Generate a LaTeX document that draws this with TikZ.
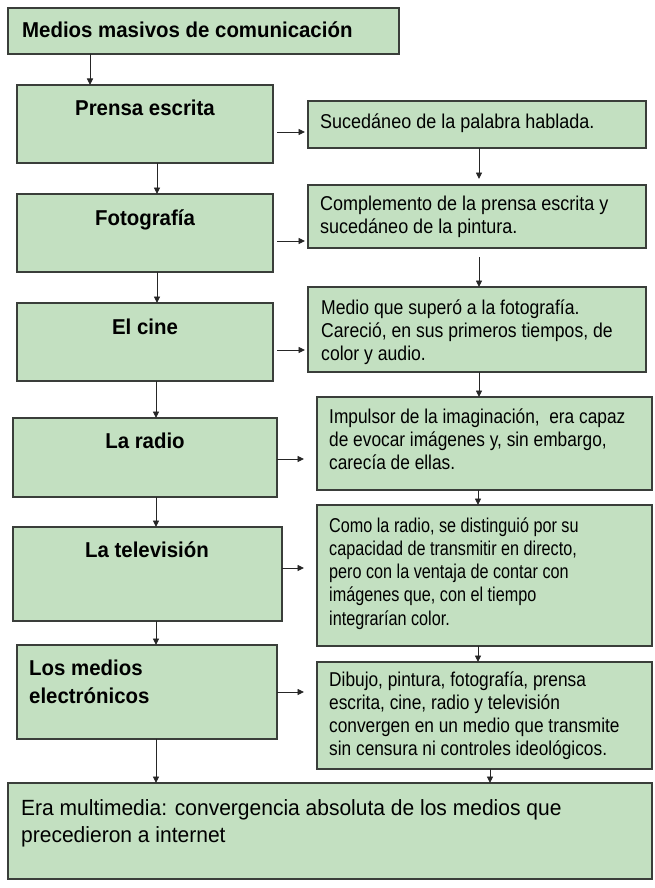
\documentclass[tikz,border=0pt]{standalone}
\usepackage{fontspec}
\setmainfont{Liberation Sans}
\newfontfamily\headfont{Liberation Sans}[FakeStretch=0.95]
\newfontfamily\bigfont{Liberation Sans}[FakeStretch=0.955]
\newfontfamily\fsA{Liberation Sans}[FakeStretch=0.90]
\newfontfamily\fsB{Liberation Sans}[FakeStretch=0.88]
\newfontfamily\fsC{Liberation Sans}[FakeStretch=0.865]
\newfontfamily\fsD{Liberation Sans}[FakeStretch=0.81]
\usetikzlibrary{arrows.meta}
\definecolor{boxfill}{RGB}{195,224,193}
\definecolor{boxline}{RGB}{58,62,58}
\newcommand\gbox[5]{\node[box,anchor=north west,minimum width={#4-#2},minimum height={#5-#3}] (#1) at (#2,#3) {};}
\newcommand\firstline{\rule{0pt}{18pt}}
\begin{document}
\begin{tikzpicture}[x=1pt,y=-1pt,
  box/.style={draw=boxline, fill=boxfill, line width=1.2pt, inner sep=0pt, outer sep=0pt},
  head/.style={font=\headfont\fontsize{21.5}{28}\selectfont\bfseries, inner sep=0pt, align=left},
  body/.style={font={#1\fontsize{20}{23.2}\selectfont}, inner sep=0pt, align=left, anchor=north west},
  big/.style={font=\bigfont\fontsize{22}{27}\selectfont, inner sep=0pt, align=left, anchor=north west},
  arr/.style={line width=0.9pt, draw=black!85, -{Triangle[length=6.5pt,width=6pt]}}]
\useasboundingbox (0,0) rectangle (654,888);
% boxes
\gbox{T}{8}{8}{399}{54}
\gbox{L1}{17}{85}{273}{163}
\gbox{L2}{17}{194}{273}{272}
\gbox{L3}{17}{303}{273}{381}
\gbox{L4}{13}{418}{277}{497}
\gbox{L5}{13}{527}{282}{621}
\gbox{L6}{17}{645}{277}{739}
\gbox{R1}{308}{101}{646}{148}
\gbox{R2}{308}{185}{646}{248}
\gbox{R3}{308}{287}{646}{372}
\gbox{R4}{317}{397}{652}{490}
\gbox{R5}{317}{505}{652}{646}
\gbox{R6}{317}{662}{652}{769}
\gbox{B}{8}{783}{652}{879}
% texts
\node[head, anchor=base west] (tT) at (22,38) {Medios masivos de comunicación};
\node[head, anchor=base] (tL1) at (145,116) {Prensa escrita};
\node[head, anchor=base] (tL2) at (145,225) {Fotografía};
\node[head, anchor=base] (tL3) at (145,334) {El cine};
\node[head, anchor=base] (tL4) at (145,448) {La radio};
\node[head, anchor=base] (tL5) at (147,557) {La televisión};
\node[head, anchor=north west] (tL6) at (29,675-18) {\firstline Los medios\\electrónicos};
\node[body=\fsA] (tR1) at (320,128-18) {\firstline Sucedáneo de la palabra hablada.};
\node[body=\fsA] (tR2) at (320,210-18) {\firstline Complemento de la prensa escrita y\\sucedáneo de la pintura.};
\node[body=\fsB] (tR3) at (321,314-18) {\firstline Medio que superó a la fotografía.\\Careció, en sus primeros tiempos, de\\color y audio.};
\node[body=\fsC] (tR4) at (329,423-18) {\firstline Impulsor de la imaginación, \ era capaz\\de evocar imágenes y, sin embargo,\\carecía de ellas.};
\node[body=\fsD] (tR5) at (329,532-18) {\firstline Como la radio, se distinguió por su\\capacidad de transmitir en directo,\\pero con la ventaja de contar con\\imágenes que, con el tiempo\\integrarían color.};
\node[body=\fsC] (tR6) at (329,686-18) {\firstline Dibujo, pintura, fotografía, prensa\\escrita, cine, radio y televisión\\convergen en un medio que transmite\\sin censura ni controles ideológicos.};
\node[big] (tB) at (21,815-18) {\firstline Era multimedia: convergencia absoluta de los medios que\\precedieron a internet};
% vertical arrows, left column
\draw[arr] (T.south -| 90,0) -- (L1.north -| 90,0);
\draw[arr] (L1.south -| 157,0) -- (L2.north -| 157,0);
\draw[arr] (L2.south -| 157,0) -- (L3.north -| 157,0);
\draw[arr] (L3.south -| 156,0) -- (L4.north -| 156,0);
\draw[arr] (L4.south -| 156,0) -- (L5.north -| 156,0);
\draw[arr] (L5.south -| 156,0) -- (L6.north -| 156,0);
\draw[arr] (L6.south -| 156,0) -- (B.north -| 156,0);
% vertical arrows, right column
\draw[arr] (R1.south -| 479,0) -- ([yshift=6pt]R2.north -| 479,0);
\draw[arr] ([yshift=-9pt]R2.south -| 479,0) -- (R3.north -| 479,0);
\draw[arr] (R3.south -| 479,0) -- (R4.north -| 479,0);
\draw[arr] (R4.south -| 478,0) -- (R5.north -| 478,0);
\draw[arr] (R5.south -| 478,0) -- (R6.north -| 478,0);
\draw[arr] (R6.south -| 490,0) -- (B.north -| 490,0);
% horizontal arrows
\draw[arr] ([xshift=4pt]L1.east |- 0,132) -- ([xshift=-3pt]R1.west |- 0,132);
\draw[arr] ([xshift=4pt]L2.east |- 0,241) -- ([xshift=-3pt]R2.west |- 0,241);
\draw[arr] ([xshift=4pt]L3.east |- 0,350) -- ([xshift=-3pt]R3.west |- 0,350);
\draw[arr] (L4.east |- 0,459) -- ([xshift=-13pt]R4.west |- 0,459);
\draw[arr] (L5.east |- 0,568) -- ([xshift=-13pt]R5.west |- 0,568);
\draw[arr] (L6.east |- 0,692) -- ([xshift=-13pt]R6.west |- 0,692);
\end{tikzpicture}
\end{document}
